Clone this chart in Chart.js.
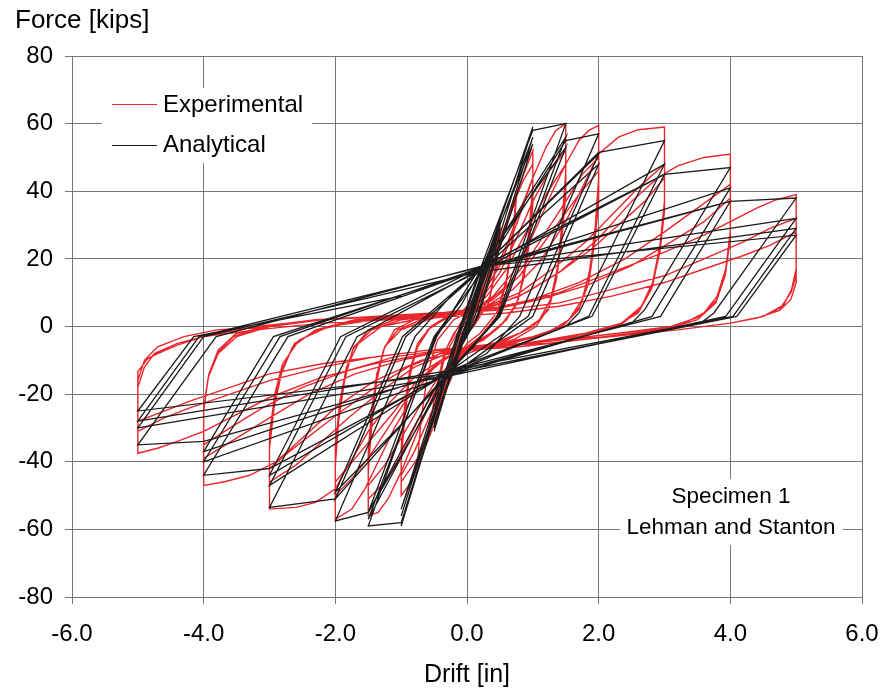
<!DOCTYPE html>
<html>
<head>
<meta charset="utf-8">
<script src="https://cdn.jsdelivr.net/npm/chart.js@4/dist/chart.umd.min.js"></script>
<style>
html,body{margin:0;padding:0;background:#fff;}
canvas{display:block;}
</style>
</head>
<body>
<canvas id="c" width="880" height="691"></canvas>
<script>
// ---- Tick values ----
const xTicks = [-6, -4, -2, 0, 2, 4, 6];
const yTicks = [-80, -60, -40, -20, 0, 20, 40, 60, 80];

// ---- Experimental (red) : [drift in, force kips], by drift level ----
const expSmall = [[0,0],[0.1,7],[0.25,16],[0.2,9],[0.08,2],[-0.05,-3],[-0.25,-16],[-0.2,-9],[-0.08,-2],[0.05,3],[0.25,15],[0.4,24],[0.5,30],[0.45,20],[0.35,9],[0.15,2],[-0.05,-3],[-0.2,-10],[-0.4,-22],[-0.5,-30],[-0.45,-20],[-0.35,-9],[-0.15,-2],[0.05,3],[0.2,10],[0.4,22],[0.5,28],[0.45,18],[0.33,7],[0.1,0],[-0.1,-4],[-0.3,-13],[-0.5,-28],
[-0.45,-18],[-0.3,-6],[-0.1,1],[0.1,4],[0.3,12],[0.5,24],[0.65,34],[0.75,40],[0.7,28],[0.6,14],[0.45,4],[0.2,-2],[0,-5],[-0.2,-11],[-0.4,-21],[-0.6,-32],[-0.75,-40],
[-0.7,-28],[-0.6,-14],[-0.45,-4],[-0.2,2],[0,4],[0.2,9],[0.4,19],[0.6,30],[0.75,38],[0.7,26],[0.6,13],[0.45,3],[0.2,-3],[0,-6],[-0.2,-11],[-0.45,-24],[-0.6,-32]];
const exp10 = [[-0.45,-17],[-0.35,-8],[-0.2,-2],[0,3],[0.2,9],[0.4,18],[0.6,30],[0.8,42],[1.0,52],
[1.0,42],[0.95,30],[0.88,18],[0.78,8],[0.6,2],[0.35,-2],[0.1,-5],[-0.1,-9],[-0.3,-18],[-0.5,-29],[-0.7,-39],[-0.85,-46],[-1.0,-50],
[-1.0,-40],[-0.95,-28],[-0.88,-16],[-0.78,-7],[-0.6,-1],[-0.35,2],[-0.1,4],[0.1,8],[0.3,16],[0.5,26],[0.7,36],[0.85,43],[1.0,48],
[1.0,40],[0.95,28],[0.87,16],[0.76,7],[0.55,1],[0.3,-3],[0.05,-6],[-0.15,-11],[-0.35,-20],[-0.55,-30],[-0.75,-39],[-1.0,-46],
[-1.0,-37],[-0.95,-26],[-0.87,-14],[-0.75,-6],[-0.55,0],[-0.3,3],[0,4],[0.2,8],[0.4,15],[0.6,24],[0.8,34],[1.0,44],
[1.0,36],[0.95,25],[0.86,14],[0.74,6],[0.5,0],[0.25,-4],[0,-6],[-0.2,-11],[-0.4,-19],[-0.6,-28],[-0.8,-37],[-1.0,-44]];
const exp15 = [[-1.0,-36],[-0.95,-24],[-0.87,-13],[-0.75,-5],[-0.55,0],[-0.3,3],[0,5],[0.25,10],[0.5,18],[0.75,30],[1.0,44],[1.2,53],[1.35,58],[1.5,60],
[1.5,46],[1.45,32],[1.38,18],[1.27,8],[1.1,2],[0.8,-2],[0.4,-5],[0,-7],[-0.25,-12],[-0.5,-20],[-0.75,-31],[-1.0,-43],[-1.2,-51],[-1.35,-55],[-1.5,-56],
[-1.5,-43],[-1.45,-30],[-1.38,-17],[-1.27,-7],[-1.1,-1],[-0.8,2],[-0.4,4],[0,5],[0.25,9],[0.5,16],[0.75,26],[1.0,37],[1.25,46],[1.5,52],
[1.5,42],[1.45,29],[1.37,16],[1.25,6],[1.05,0],[0.7,-4],[0.3,-6],[0,-8],[-0.25,-12],[-0.5,-19],[-0.75,-28],[-1.0,-38],[-1.25,-46],[-1.5,-51],
[-1.5,-41],[-1.45,-28],[-1.37,-15],[-1.25,-6],[-1.05,-1],[-0.7,2],[-0.3,3],[0,4],[0.3,9],[0.6,17],[0.9,28],[1.2,39],[1.5,48],
[1.5,39],[1.44,26],[1.36,14],[1.24,5],[1.0,0],[0.6,-4],[0.2,-6],[-0.1,-8],[-0.4,-14],[-0.7,-23],[-1.0,-33],[-1.25,-41],[-1.5,-47]];
const exp20 = [[-1.5,-37],[-1.45,-25],[-1.37,-14],[-1.25,-6],[-1.0,-1],[-0.6,2],[-0.2,4],[0.1,5],[0.4,9],[0.7,16],[1.0,27],[1.3,40],[1.5,48],[1.7,55],[1.85,58],[2.0,59.5],
[2.0,44],[1.95,30],[1.87,17],[1.75,8],[1.55,2],[1.2,-2],[0.7,-5],[0.2,-6],[-0.2,-8],[-0.5,-12],[-0.8,-20],[-1.1,-30],[-1.35,-40],[-1.55,-48],[-1.75,-54],[-2.0,-57],
[-2.0,-41],[-1.95,-28],[-1.86,-16],[-1.74,-7],[-1.5,-1],[-1.1,2],[-0.6,3],[-0.1,4],[0.3,7],[0.6,12],[0.9,19],[1.2,28],[1.5,37],[1.75,45],[2.0,50],
[2.0,40],[1.94,27],[1.85,15],[1.72,6],[1.5,1],[1.1,-3],[0.6,-5],[0.1,-6],[-0.3,-9],[-0.6,-14],[-0.9,-21],[-1.2,-30],[-1.5,-39],[-1.75,-45],[-2.0,-50],
[-2.0,-38],[-1.94,-25],[-1.85,-14],[-1.72,-6],[-1.45,-1],[-1.0,2],[-0.5,3],[0,4],[0.4,8],[0.8,15],[1.1,23],[1.4,31],[1.7,39],[2.0,46],
[2.0,37],[1.94,25],[1.85,13],[1.7,5],[1.45,0],[1.0,-3],[0.5,-5],[0,-6],[-0.4,-10],[-0.8,-17],[-1.1,-25],[-1.4,-32],[-1.7,-39],[-2.0,-46]];
const exp30 = [[-2.0,-35],[-1.93,-22],[-1.83,-12],[-1.65,-5],[-1.3,0],[-0.8,2],[-0.2,4],[0.3,6],[0.7,11],[1.1,19],[1.5,31],[1.8,43],[2.0,51],[2.3,56],[2.6,58.2],[3.0,59],
[3.0,37],[2.93,24],[2.82,13],[2.65,6],[2.35,1],[1.8,-2],[1.2,-4],[0.5,-6],[0,-7],[-0.4,-10],[-0.8,-15],[-1.2,-23],[-1.5,-31],[-1.8,-41],[-2.0,-48],[-2.3,-52],[-2.6,-53.5],[-3.0,-54],
[-3.0,-36],[-2.93,-24],[-2.82,-14],[-2.65,-6],[-2.3,-1],[-1.7,2],[-1.0,3],[-0.3,4],[0.3,6],[0.8,10],[1.3,17],[1.8,25],[2.2,33],[2.6,41],[3.0,48],
[3.0,36],[2.93,23],[2.82,12],[2.63,5],[2.3,0],[1.7,-3],[1.0,-5],[0.3,-6],[-0.3,-8],[-0.8,-12],[-1.3,-19],[-1.8,-27],[-2.2,-34],[-2.6,-41],[-3.0,-46],
[-3.0,-35],[-2.93,-23],[-2.82,-13],[-2.62,-5],[-2.25,-1],[-1.6,2],[-0.9,3],[-0.2,4],[0.4,6],[0.9,10],[1.4,16],[1.9,23],[2.3,30],[2.7,37],[3.0,44],
[3.0,34],[2.93,22],[2.8,11],[2.6,4],[2.25,0],[1.6,-3],[0.9,-5],[0.2,-6],[-0.4,-8],[-0.9,-12],[-1.4,-18],[-1.9,-25],[-2.3,-31],[-2.7,-37],[-3.0,-42]];
const exp40 = [[-3.0,-32],[-2.92,-20],[-2.8,-11],[-2.55,-4],[-2.1,0],[-1.4,2],[-0.6,3],[0.2,5],[0.8,9],[1.4,16],[2.0,26],[2.5,37],[2.9,44],[3.2,47.5],[3.6,50],[4.0,51],
[4.0,28],[3.93,17],[3.8,9],[3.6,4],[3.2,0],[2.5,-2],[1.7,-4],[0.8,-6],[0,-7],[-0.7,-10],[-1.4,-16],[-2.0,-24],[-2.5,-33],[-2.9,-40],[-3.3,-44],[-3.7,-46],[-4.0,-47],
[-4.0,-24],[-3.93,-15],[-3.8,-8],[-3.55,-3],[-3.1,0],[-2.3,2],[-1.4,3],[-0.5,4],[0.3,5],[1.0,8],[1.7,13],[2.4,20],[3.0,28],[3.5,35],[4.0,42],
[4.0,27],[3.93,16],[3.8,8],[3.55,3],[3.1,0],[2.3,-2],[1.4,-4],[0.5,-6],[-0.3,-7],[-1.0,-10],[-1.7,-14],[-2.4,-20],[-3.0,-27],[-3.5,-33],[-4.0,-39],
[-4.0,-25],[-3.93,-15],[-3.78,-8],[-3.5,-3],[-3.0,0],[-2.2,2],[-1.3,3],[-0.4,4],[0.4,5],[1.1,8],[1.8,12],[2.5,18],[3.1,25],[3.6,31],[4.0,38],
[4.0,26],[3.92,15],[3.78,7],[3.5,2],[3.0,-1],[2.2,-3],[1.3,-4],[0.4,-6],[-0.4,-7],[-1.1,-9],[-1.8,-13],[-2.5,-18],[-3.1,-24],[-3.6,-30],[-4.0,-35]];
const exp50 = [[-4.0,-24],[-3.92,-14],[-3.78,-7],[-3.5,-2],[-3.0,0],[-2.2,2],[-1.2,3],[-0.2,4],[0.6,6],[1.4,10],[2.2,16],[3.0,22],[3.6,27],[4.0,31],[4.4,35],[4.7,37.5],[5.0,39],
[5.0,13],[4.92,8],[4.75,4.8],[4.4,2.5],[4.0,1],[3.2,-1],[2.2,-3],[1.2,-5],[0.2,-6],[-0.6,-8],[-1.4,-11],[-2.2,-15],[-3.0,-21],[-3.6,-27],[-4.0,-31],[-4.4,-34],[-4.7,-36],[-5.0,-37.5],
[-5.0,-13.4],[-4.85,-9.5],[-4.7,-8],[-4.4,-5.5],[-4.0,-3],[-3.2,0],[-2.2,2],[-1.2,3],[-0.2,4],[0.6,5],[1.4,7],[2.2,11],[3.0,15],[3.6,20],[4.2,25],[4.6,29],[5.0,32],
[5.0,17],[4.93,11],[4.8,6],[4.5,3],[4.0,1],[3.2,-1],[2.2,-3],[1.2,-5],[0.2,-6],[-0.6,-7],[-1.4,-9],[-2.2,-12],[-3.0,-16],[-3.6,-20],[-4.2,-24],[-4.6,-27],[-5.0,-31],
[-5.0,-18],[-4.9,-12],[-4.75,-8],[-4.4,-5],[-4.0,-3],[-3.2,-1],[-2.2,1],[-1.2,2],[-0.2,3],[0.6,4],[1.4,6],[2.2,9],[3.0,13],[3.6,17],[4.2,21],[4.6,24],[5.0,28],
[5.0,15],[4.92,10],[4.78,6],[4.5,3],[4.0,1],[3.2,-1],[2.2,-3],[1.2,-5],[0.2,-6],[-0.6,-7],[-1.4,-9],[-2.2,-11],[-3.0,-14],[-3.6,-18],[-4.2,-22],[-4.6,-25],[-5.0,-28],
[-5.0,-16],[-4.9,-10],[-4.7,-6],[-4.3,-3],[-3.8,-1],[-3.0,0]];

// ---- Analytical (black) ----
const anaSmall = [[0,0],[0.25,16],[0.1,6],[-0.25,-15],[-0.1,-5],[0.25,15],[0.1,5],[-0.25,-15],[-0.1,-4],[0.5,31],[0.3,18],[-0.1,-4],[-0.5,-31],[-0.3,-18],[0.1,4],[0.5,30],[0.3,17],[-0.1,-5],[-0.5,-30],[-0.3,-17],[0.1,5],[0.5,29],[0.3,16],[-0.1,-5],[-0.5,-29]];
const ana10 = [[-0.2,-12],[0.22,16],[1.0,59],[0.12,3],[-0.28,-13],[-1.0,-59],[-0.12,-3],[0.25,17],[1.0,56],[0.15,3],[-0.33,-15],[-1.0,-56],[-0.14,-3],[0.18,15],[1.0,54],[0.17,3],[-0.26,-12],[-1.0,-54]];
const ana15 = [[-0.16,-3],[0.2,17],[1.0,58],[1.5,60],[0.46,3],[0.1,-6],[-0.3,-14],[-1.0,-58],[-1.5,-59],[-0.48,-3],[-0.1,6],[0.25,18],[1.5,56],[0.48,3],[-0.35,-15],[-1.5,-57],[-0.46,-3],[0.15,16],[1.5,53],[0.5,3],[-0.25,-13],[-1.5,-55]];
const ana20 = [[-0.5,-3],[0.3,18],[1.5,55],[2.0,57],[0.8,3],[0.3,-8],[-0.4,-15],[-1.5,-55],[-2.0,-57.5],[-0.79,-3],[-0.2,10],[0.2,17],[2.0,51],[0.93,3],[-0.25,-13],[-2.0,-51],[-0.93,-3],[0.35,19],[2.0,48],[1.0,3],[-0.35,-16],[-2.0,-49]];
const ana30 = [[-0.98,-3],[0.2,17],[2.0,51.5],[3.0,55],[1.7,4],[1.5,0],[-0.3,-14],[-2.0,-51],[-3.0,-53.5],[-1.67,-3],[0.3,18],[3.0,48],[1.85,3],[-0.4,-15],[-3.0,-47],[-1.84,-3],[0.15,16],[3.0,45],[1.9,3],[-0.25,-13],[-3.0,-44]];
const ana40 = [[-1.92,-3],[0.25,18],[3.0,45],[4.0,47],[2.7,5],[2.5,1],[-0.3,-14],[-3.0,-42],[-4.0,-44],[-2.72,-3],[0.2,17],[4.0,41],[2.81,3],[-0.35,-15],[-4.0,-40],[-2.84,-3],[0.3,18],[4.0,37],[2.94,3],[-0.25,-13],[-4.0,-37]];
const ana50 = [[-2.94,-3],[0.2,17],[4.0,37],[5.0,38],[3.75,4],[3.55,1],[-0.3,-14],[-4.0,-34],[-5.0,-35],[-3.81,-3],[0.25,18],[5.0,32],[3.93,3],[-0.35,-15],[-5.0,-30],[-4.0,-3],[0.15,16],[5.0,29],[4.04,3],[-0.25,-13],[-5.0,-28],[-4.07,-3],[0.3,18],[5.0,27],[4.1,3],[-0.3,-14],[-5.0,-25],[-4.15,-3],[-1.0,9]];

const expColor = '#e8262b';
const anaColor = '#1c1c1c';
const gridColor = '#777777';
const FONT = '"Liberation Sans", Arial, Helvetica, sans-serif';

const toPts = arr => arr.map(p => ({x: p[0], y: p[1]}));
const expData = toPts([].concat(expSmall, exp10, exp15, exp20, exp30, exp40, exp50));
const anaData = toPts([].concat(anaSmall, ana10, ana15, ana20, ana30, ana40, ana50));

const overlay = {
  id: 'overlay',
  afterDatasetsDraw(chart) {
    const c = chart.ctx;
    c.save();
    c.fillStyle = '#fff';
    c.fillRect(102, 88, 210, 75);
    c.fillRect(620, 479, 223, 66);
    c.lineWidth = 1;
    c.strokeStyle = expColor;
    c.beginPath(); c.moveTo(112, 104.5); c.lineTo(157, 104.5); c.stroke();
    c.strokeStyle = anaColor;
    c.beginPath(); c.moveTo(112, 145.5); c.lineTo(157, 145.5); c.stroke();
    c.fillStyle = '#000';
    c.font = '24px ' + FONT;
    c.textAlign = 'left';
    c.textBaseline = 'middle';
    c.fillText('Experimental', 163, 105);
    c.fillText('Analytical', 163, 145);
    c.font = '22.5px ' + FONT;
    c.textAlign = 'center';
    c.fillText('Specimen 1', 731, 497);
    c.fillText('Lehman and Stanton', 731, 528);
    c.restore();
  },
  afterDraw(chart) {
    const c = chart.ctx;
    c.save();
    c.fillStyle = '#000';
    c.font = '26px ' + FONT;
    c.textBaseline = 'alphabetic';
    c.textAlign = 'left';
    c.fillText('Force [kips]', 15, 28);
    c.font = '25px ' + FONT;
    c.textAlign = 'center';
    const a = chart.chartArea;
    c.fillText('Drift [in]', (a.left + a.right) / 2, 682);
    c.restore();
  }
};

new Chart(document.getElementById('c'), {
  type: 'scatter',
  data: {
    datasets: [
      {label: 'Experimental', data: expData, showLine: true, borderColor: expColor, borderWidth: 1.4, pointRadius: 0, tension: 0, order: 2},
      {label: 'Analytical', data: anaData, showLine: true, borderColor: anaColor, borderWidth: 1.3, pointRadius: 0, tension: 0, order: 1}
    ]
  },
  options: {
    responsive: false,
    animation: false,
    devicePixelRatio: 1,
    layout: {padding: {left: 0, right: 18, top: 56, bottom: 0}},
    plugins: {legend: {display: false}, tooltip: {enabled: false}},
    scales: {
      x: {
        type: 'linear', min: -6, max: 6,
        afterBuildTicks: s => { s.ticks = xTicks.map(v => ({value: v})); },
        afterFit: s => { s.height = 94; s.paddingLeft = 0; s.paddingRight = 0; },
        ticks: {autoSkip: false, maxRotation: 0, color: '#000', padding: 16, font: {family: FONT, size: 24}, callback: v => Number(v).toFixed(1)},
        grid: {color: gridColor, lineWidth: 1, tickLength: 7},
        border: {color: gridColor, width: 1}
      },
      y: {
        type: 'linear', min: -80, max: 80,
        afterBuildTicks: s => { s.ticks = yTicks.map(v => ({value: v})); },
        afterFit: s => { s.width = 72; s.paddingTop = 0; s.paddingBottom = 0; },
        ticks: {autoSkip: false, color: '#000', padding: 12, font: {family: FONT, size: 24}, callback: v => String(v)},
        grid: {color: gridColor, lineWidth: 1, tickLength: 7},
        border: {color: gridColor, width: 1}
      }
    }
  },
  plugins: [overlay]
});
</script>
</body>
</html>
